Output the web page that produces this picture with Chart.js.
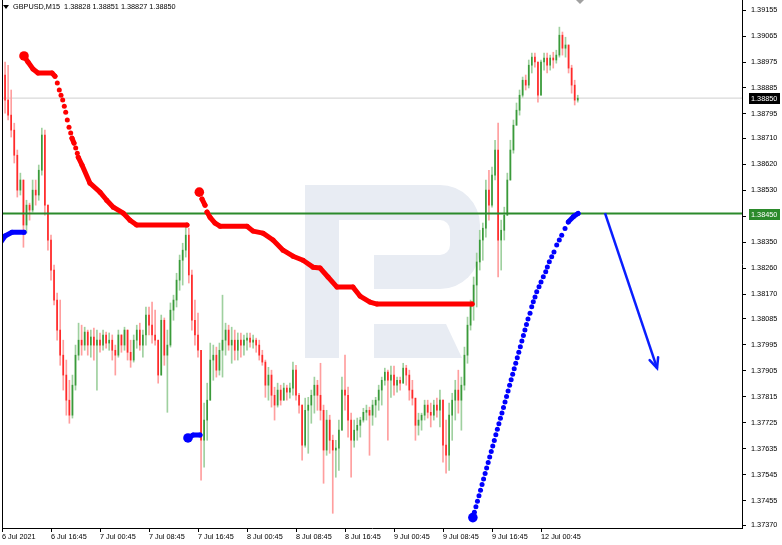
<!DOCTYPE html>
<html><head><meta charset="utf-8">
<script src="https://cdn.jsdelivr.net/npm/chart.js@4.4.0/dist/chart.umd.min.js"></script>
<style>html,body{margin:0;padding:0;background:#fff;overflow:hidden}#wrap{position:relative;width:782px;height:545px}</style>
</head><body><div id="wrap"><canvas id="c" width="782" height="545"></canvas></div>
<script>
// ---- data ----
const symbolText = "GBPUSD,M15  1.38828 1.38851 1.38827 1.38850";
const xTickIndex = [0,16,32,48,64,80,96,112,128,144,160,176];
const xTickLabels = ["6 Jul 2021","6 Jul 16:45","7 Jul 00:45","7 Jul 08:45","7 Jul 16:45","8 Jul 00:45","8 Jul 08:45","8 Jul 16:45","9 Jul 00:45","9 Jul 08:45","9 Jul 16:45","12 Jul 00:45"];
const yTickValues = [1.39155,1.39065,1.38975,1.38885,1.38795,1.38710,1.38620,1.38530,1.38440,1.38350,1.38260,1.38170,1.38085,1.37995,1.37905,1.37815,1.37725,1.37635,1.37545,1.37455,1.37370];
const currentPrice = 1.38850;
const levelPrice = 1.38450;
const firstOpen = 1.38878;
const candleHigh = [1.38982,1.38975,1.38964,1.38878,1.38763,1.38670,1.38590,1.38566,1.38496,1.38486,1.38566,1.38566,1.38618,1.38746,1.38739,1.38462,1.38375,1.38271,1.38174,1.38150,1.38011,1.37942,1.37872,1.37890,1.37994,1.38070,1.38063,1.38056,1.38046,1.38046,1.38053,1.38046,1.38036,1.38046,1.38039,1.38036,1.38029,1.37994,1.38046,1.38029,1.38056,1.38046,1.38011,1.38029,1.38063,1.38070,1.38046,1.38126,1.38126,1.38143,1.38115,1.38011,1.38098,1.38088,1.38046,1.38140,1.38167,1.38243,1.38306,1.38347,1.38410,1.38399,1.38254,1.38150,1.38105,1.37976,1.37793,1.37862,1.38001,1.37994,1.37987,1.38001,1.38167,1.38070,1.38063,1.38056,1.38046,1.38036,1.38036,1.38029,1.38036,1.38036,1.38029,1.38018,1.38011,1.37976,1.37942,1.37917,1.37907,1.37848,1.37862,1.37855,1.37862,1.37855,1.37862,1.37935,1.37924,1.37827,1.37786,1.37810,1.37813,1.37838,1.37883,1.37872,1.37931,1.37786,1.37768,1.37751,1.37682,1.37664,1.37734,1.37883,1.37959,1.37848,1.37758,1.37734,1.37741,1.37744,1.37775,1.37786,1.37779,1.37803,1.37813,1.37855,1.37883,1.37914,1.37907,1.37921,1.37921,1.37883,1.37883,1.37931,1.37924,1.37907,1.37872,1.37810,1.37758,1.37758,1.37803,1.37803,1.37793,1.37803,1.37810,1.37838,1.37803,1.37734,1.37793,1.37827,1.37872,1.37907,1.37883,1.37987,1.38091,1.38150,1.38230,1.38313,1.38392,1.38417,1.38566,1.38600,1.38611,1.38704,1.38763,1.38427,1.38472,1.38590,1.38704,1.38774,1.38833,1.38878,1.38923,1.38930,1.38982,1.39006,1.39006,1.38975,1.38982,1.39006,1.39006,1.38999,1.39009,1.39016,1.39096,1.39079,1.39061,1.39034,1.38964,1.38912,1.38860];
const candleLow = [1.38860,1.38798,1.38774,1.38715,1.38625,1.38507,1.38514,1.38333,1.38382,1.38427,1.38455,1.38479,1.38496,1.38583,1.38444,1.38323,1.38219,1.38133,1.38011,1.37924,1.37838,1.37751,1.37723,1.37741,1.37838,1.37942,1.37959,1.37976,1.37959,1.37952,1.37942,1.37838,1.37969,1.37976,1.37983,1.37976,1.37942,1.37890,1.37952,1.37969,1.37976,1.37942,1.37917,1.37935,1.37983,1.37976,1.37952,1.37994,1.38029,1.38001,1.37994,1.37862,1.37907,1.37924,1.37761,1.37987,1.38080,1.38126,1.38184,1.38202,1.38299,1.38209,1.38046,1.37994,1.37952,1.37526,1.37571,1.37664,1.37803,1.37872,1.37883,1.37890,1.37883,1.37959,1.37976,1.37931,1.37942,1.37942,1.37952,1.37959,1.37976,1.37987,1.37983,1.37969,1.37942,1.37924,1.37813,1.37803,1.37779,1.37734,1.37779,1.37786,1.37803,1.37803,1.37810,1.37820,1.37803,1.37758,1.37595,1.37640,1.37619,1.37723,1.37758,1.37768,1.37734,1.37515,1.37612,1.37619,1.37411,1.37536,1.37560,1.37699,1.37768,1.37675,1.37536,1.37640,1.37664,1.37675,1.37727,1.37734,1.37612,1.37716,1.37744,1.37768,1.37786,1.37855,1.37664,1.37813,1.37820,1.37831,1.37838,1.37865,1.37855,1.37803,1.37786,1.37664,1.37682,1.37699,1.37734,1.37741,1.37710,1.37734,1.37744,1.37710,1.37588,1.37550,1.37560,1.37664,1.37734,1.37758,1.37699,1.37838,1.37931,1.38046,1.38080,1.38126,1.38254,1.38288,1.38368,1.38427,1.38472,1.38566,1.38230,1.38254,1.38358,1.38451,1.38576,1.38659,1.38756,1.38791,1.38853,1.38878,1.38885,1.38937,1.38957,1.38836,1.38860,1.38947,1.38937,1.38947,1.38954,1.38971,1.38992,1.38999,1.38992,1.38937,1.38867,1.38826,1.38836];
const candleClose = [1.38930,1.38843,1.38791,1.38739,1.38652,1.38531,1.38566,1.38410,1.38479,1.38462,1.38531,1.38514,1.38600,1.38722,1.38479,1.38358,1.38254,1.38150,1.38046,1.37959,1.37890,1.37803,1.37751,1.37855,1.37959,1.38011,1.37994,1.38039,1.37994,1.38022,1.37994,1.38011,1.37994,1.38029,1.38001,1.38011,1.37976,1.37959,1.38029,1.37994,1.38046,1.37969,1.37942,1.38011,1.38046,1.37994,1.38029,1.38098,1.38063,1.38029,1.38011,1.37890,1.38080,1.37959,1.37994,1.38115,1.38150,1.38219,1.38288,1.38323,1.38375,1.38237,1.38080,1.38029,1.37976,1.37664,1.37734,1.37803,1.37942,1.37959,1.37907,1.37976,1.38011,1.38046,1.37994,1.38011,1.37976,1.38011,1.37994,1.38011,1.38018,1.38004,1.38011,1.37994,1.37959,1.37935,1.37855,1.37890,1.37820,1.37786,1.37838,1.37803,1.37845,1.37831,1.37845,1.37907,1.37820,1.37786,1.37647,1.37768,1.37786,1.37820,1.37855,1.37820,1.37768,1.37630,1.37734,1.37664,1.37630,1.37637,1.37699,1.37838,1.37820,1.37734,1.37664,1.37699,1.37716,1.37734,1.37761,1.37768,1.37751,1.37786,1.37803,1.37838,1.37872,1.37900,1.37872,1.37890,1.37855,1.37872,1.37862,1.37914,1.37890,1.37838,1.37810,1.37716,1.37734,1.37751,1.37786,1.37761,1.37751,1.37786,1.37768,1.37803,1.37647,1.37612,1.37751,1.37803,1.37838,1.37803,1.37855,1.37959,1.38063,1.38133,1.38202,1.38282,1.38358,1.38399,1.38531,1.38479,1.38583,1.38670,1.38358,1.38392,1.38444,1.38566,1.38670,1.38756,1.38808,1.38860,1.38912,1.38895,1.38964,1.38992,1.38975,1.38860,1.38975,1.38989,1.38964,1.38989,1.38982,1.38999,1.39068,1.39023,1.39034,1.38954,1.38895,1.38843,1.38850];
// indicator (stop) lines, x in candle index units
const redStopAX = [7.18,8.49,10.12,11.76,16.33,17.31,18.06,18.71,19.27,19.82,20.34,20.80,21.32,21.88,22.43,22.86,23.51,24.07,24.59,24.91,26.12,28.73,32.0,34.19,36.34,39.61,41.8,43.98,60.4];
const redStopAY = [1.38996,1.38975,1.38951,1.38937,1.38937,1.38926,1.38902,1.38878,1.38860,1.38843,1.38822,1.38801,1.38774,1.38749,1.38729,1.38711,1.38694,1.38677,1.38659,1.38645,1.38618,1.38555,1.38524,1.38496,1.38472,1.38451,1.38427,1.38410,1.38410];
const redStopBX = [64.43,65.31,66.29,66.94,67.92,69.55,71.18,80.0,81.96,85.22,88.49,91.76,95.02,98.29,101.55,103.84,106.45,109.39,114.6,116.9,120.16,122.45,153.47];
const redStopBY = [1.38524,1.38500,1.38479,1.38455,1.38437,1.38417,1.38406,1.38406,1.38389,1.38382,1.38358,1.38323,1.38302,1.38288,1.38264,1.38261,1.38230,1.38195,1.38195,1.38164,1.38143,1.38136,1.38136];
const blueStopAX = [-0.65,0.98,3.27,7.18];
const blueStopAY = [1.38347,1.38372,1.38385,1.38385];
const blueStopBX = [60.73,62.37,64.65];
const blueStopBY = [1.37672,1.37682,1.37682];
const blueStopCX = [153.75,154.25,154.75,155.25,155.75,156.25,156.75,157.25,157.75,158.25,158.75,159.25,159.75,160.25,160.75,161.25,161.75,162.25,162.75,163.25,163.75,164.25,164.75,165.25,165.75,166.25,166.75,167.25,167.75,168.25,168.75,169.25,169.75,170.25,170.75,171.25,171.75,172.41,172.96,173.48,174.04,174.6,175.35,176.0,176.75,177.54,178.06,178.71,179.49,180.24,181.13,181.97,182.76,183.84,184.91,186.55,188.08];
const blueStopCY = [1.37396,1.37415,1.37434,1.37453,1.37472,1.37491,1.37511,1.37530,1.37549,1.37568,1.37587,1.37606,1.37625,1.37644,1.37663,1.37683,1.37702,1.37721,1.37740,1.37759,1.37778,1.37797,1.37816,1.37835,1.37855,1.37874,1.37893,1.37912,1.37931,1.37950,1.37969,1.37988,1.38008,1.38027,1.38046,1.38065,1.38084,1.38104,1.38127,1.38144,1.38161,1.38179,1.38196,1.38213,1.38231,1.38248,1.38265,1.38283,1.38300,1.38317,1.38341,1.38358,1.38375,1.38398,1.38421,1.38439,1.38450];
const arrowX = [196.9,213.9];
const arrowY = [1.38451,1.37914];

// ---- build ----
const X_MAX = 241.63, Y_MIN = 1.37360, Y_MAX = 1.39190;
const FONT = "'Liberation Sans',Arial,sans-serif";
const FS = 7.3;
const UP = '#3a9a3a', UP_PALE = '#9fd09f', DN = '#ff2a2a', DN_PALE = '#ff9e9e';
const opens = candleClose.map((c,i)=> i===0 ? firstOpen : candleClose[i-1]);
const wickData = [], bodyData = [], wickCol = [], bodyCol = [];
candleClose.forEach((c,i)=>{
  const o = opens[i];
  const hi = Math.max(candleHigh[i], o, c), lo = Math.min(candleLow[i], o, c);
  const up = c >= o;
  wickData.push({x:i, y:[lo,hi]});
  bodyData.push({x:i, y:[Math.min(o,c), Math.max(o,c)]});
  wickCol.push(up ? UP_PALE : DN_PALE);
  bodyCol.push(up ? UP : DN);
});
const pts = (xs, ys) => xs.map((x,i)=>({x, y: ys[i]}));
function stopSet(xs, ys, color, bigStart, order, ratio){
  const steep = ctx => { const dx=Math.abs(ctx.p1.x-ctx.p0.x), dy=Math.abs(ctx.p1.y-ctx.p0.y); return dy>3.5 && dy>ratio*dx; };
  return {type:'line', data: pts(xs,ys), borderColor: color, backgroundColor: color, borderWidth: 5,
    borderCapStyle:'round', borderJoinStyle:'round', tension:0, order,
    pointRadius: ctx => (bigStart && ctx.dataIndex===0) ? 4.8 : 2.5, pointBorderWidth:0,
    pointBackgroundColor: color, pointHoverRadius:0,
    segment: {borderColor: ctx => steep(ctx) ? 'rgba(0,0,0,0)' : undefined}};
}
const datasets = [
  {type:'line', data: pts([0,X_MAX],[currentPrice,currentPrice]), borderColor:'#cfcfcf', borderWidth:1, pointRadius:0, order:9},
  {type:'bar', data: wickData, backgroundColor: wickCol, barThickness:1, grouped:false, borderWidth:0, order:8},
  {type:'bar', data: bodyData, backgroundColor: bodyCol, barThickness:1, grouped:false, borderWidth:0, minBarLength:1, order:7},
  {type:'line', data: pts([0,X_MAX],[levelPrice,levelPrice]), borderColor:'#2b8a2b', borderWidth:2, pointRadius:0, order:6},
  stopSet(redStopAX, redStopAY, '#ff0000', true, 5, 2.5),
  stopSet(redStopBX, redStopBY, '#ff0000', true, 5, 2.5),
  stopSet(blueStopAX, blueStopAY, '#0000ff', false, 4, 2.5),
  stopSet(blueStopBX, blueStopBY, '#0000ff', true, 4, 2.5),
  stopSet(blueStopCX, blueStopCY, '#0000ff', true, 4, 1.5),
  {type:'line', data: pts(arrowX, arrowY), borderColor:'#0a1eff', borderWidth:2.5, pointRadius:0, order:1, clip:false}
];

const watermark = {
  id:'watermark',
  beforeDatasetsDraw(chart){
    const c = chart.ctx; c.save();
    c.fillStyle = '#e8ecf3';
    c.fillRect(305,185,34,173);
    c.beginPath();
    const l=339,t=185,r=480,b=289,rad=40;
    c.moveTo(l,t); c.lineTo(r-rad,t); c.arcTo(r,t,r,t+rad,rad); c.lineTo(r,b-rad); c.arcTo(r,b,r-rad,b,rad); c.lineTo(l,b); c.closePath(); c.fill();
    c.fillStyle = '#ffffff';
    c.beginPath(); c.moveTo(339,220); c.lineTo(440,220); c.arcTo(450,220,450,230,10); c.lineTo(450,245); c.arcTo(450,255,440,255,10); c.lineTo(374,255); c.lineTo(374,290); c.lineTo(339,290); c.closePath(); c.fill();
    c.fillStyle = '#e8ecf3';
    c.beginPath(); c.moveTo(374,324); c.lineTo(446,324); c.lineTo(462,358); c.lineTo(374,358); c.closePath(); c.fill();
    c.restore();
  }
};
const decor = {
  id:'decor',
  afterDraw(chart){
    const c = chart.ctx, ys = chart.scales.y, a = chart.chartArea; c.save();
    c.strokeStyle = '#000'; c.lineWidth = 1; c.beginPath(); c.moveTo(a.left+0.5, a.top); c.lineTo(a.left+0.5, a.bottom); c.stroke();
    const m = chart.getDatasetMeta(datasets.length-1).data;
    const p0 = m[0], p1 = m[1];
    const ang = Math.atan2(p1.y-p0.y, p1.x-p0.x), L = 11, w = 0.42;
    c.strokeStyle = '#0a1eff'; c.lineWidth = 2.5; c.lineCap='round';
    c.beginPath();
    c.moveTo(p1.x - L*Math.cos(ang-w), p1.y - L*Math.sin(ang-w)); c.lineTo(p1.x,p1.y);
    c.lineTo(p1.x - L*Math.cos(ang+w), p1.y - L*Math.sin(ang+w)); c.stroke();
    c.font = FS + "px " + FONT; c.textBaseline = 'middle'; c.textAlign='left';
    const box = (v, bg) => { const y = Math.round(ys.getPixelForValue(v)); c.fillStyle = bg; c.fillRect(749, y-5, 31, 11); c.fillStyle = '#fff'; c.fillText(v.toFixed(5), 751, y+0.5); };
    box(levelPrice, '#2b8a2b');
    box(currentPrice, '#000000');
    c.fillStyle = '#000';
    c.beginPath(); c.moveTo(3,5); c.lineTo(9,5); c.lineTo(6,9); c.closePath(); c.fill();
    c.fillText(symbolText, 13, 7);
    c.fillStyle = '#a0a0a0';
    c.beginPath(); c.moveTo(576,0); c.lineTo(584,0); c.lineTo(580,4); c.closePath(); c.fill();
    c.restore();
  }
};
const noPad = s => { s.paddingLeft = 0; s.paddingRight = 0; s.paddingTop = 0; s.paddingBottom = 0; };

new Chart(document.getElementById('c'), {
  type:'bar',
  data:{datasets},
  options:{
    responsive:false, animation:false, devicePixelRatio:1,
    layout:{autoPadding:false, padding:{left:2,top:0,right:0,bottom:0}},
    plugins:{legend:{display:false}, tooltip:{enabled:false}},
    scales:{
      x:{type:'linear', min:0, max:X_MAX, offset:false, position:'bottom',
        grid:{drawOnChartArea:false, drawTicks:true, tickLength:4, color:'#000', offset:false},
        border:{display:true, color:'#000'},
        ticks:{autoSkip:false, maxRotation:0, align:'start', padding:1, color:'#000', font:{family:FONT, size:FS},
          callback:(v)=>{ const k = xTickIndex.indexOf(v); return k>=0 ? xTickLabels[k] : ''; }},
        afterBuildTicks:s=>{ s.ticks = xTickIndex.map(v=>({value:v})); },
        afterFit:s=>{ s.height = 17; noPad(s); }},
      y:{type:'linear', position:'right', min:Y_MIN, max:Y_MAX,
        grid:{drawOnChartArea:false, drawTicks:true, tickLength:4, color:'#000'},
        border:{display:true, color:'#000'},
        ticks:{padding:5, color:'#000', font:{family:FONT, size:FS}, callback:v=>Number(v).toFixed(5)},
        afterBuildTicks:s=>{ s.ticks = yTickValues.map(v=>({value:v})); },
        afterFit:s=>{ s.width = 40; noPad(s); }}
    }
  },
  plugins:[watermark, decor]
});
</script></body></html>
